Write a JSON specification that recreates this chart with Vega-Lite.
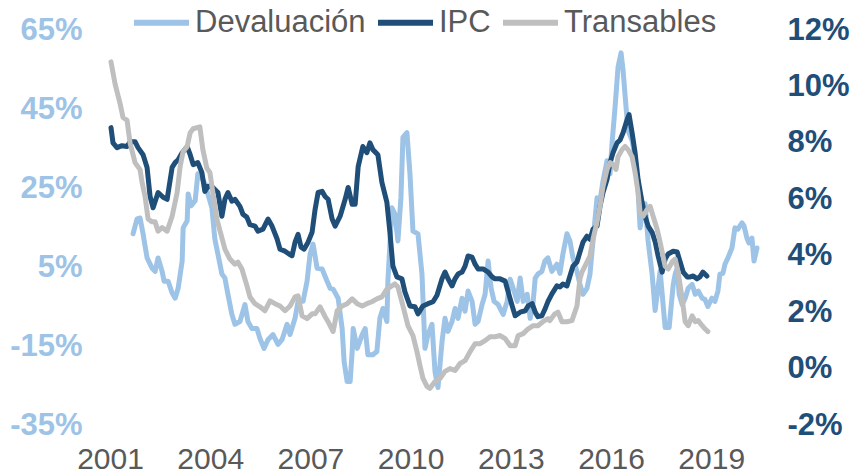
{
  "$schema": "https://vega.github.io/schema/vega-lite/v6.json",
  "width": 648,
  "height": 395,
  "autosize": {"type": "none"},
  "padding": {"left": 110, "top": 30, "right": 92, "bottom": 51},
  "background": "white",
  "config": {"view": {"stroke": null}, "font": "Liberation Sans"},
  "datasets": {
    "dev": [
      {"t":2001.69,"v":13.4},{"t":2001.81,"v":17.2},{"t":2001.90,"v":17.4},{"t":2001.99,"v":13.4},{"t":2002.11,"v":7.3},{"t":2002.26,"v":4.7},{"t":2002.35,"v":3.9},{"t":2002.44,"v":7.3},{"t":2002.56,"v":3.9},{"t":2002.62,"v":1.4},{"t":2002.74,"v":1.4},{"t":2002.86,"v":-1.6},{"t":2002.95,"v":-2.9},{"t":2003.04,"v":-0.4},{"t":2003.16,"v":6.5},{"t":2003.19,"v":14.9},{"t":2003.31,"v":16.7},{"t":2003.34,"v":23.5},{"t":2003.43,"v":20.5},{"t":2003.55,"v":21.8},{"t":2003.63,"v":28.6},{"t":2003.72,"v":28.0},{"t":2003.84,"v":26.1},{"t":2004.05,"v":20.0},{"t":2004.14,"v":12.0},{"t":2004.23,"v":8.3},{"t":2004.35,"v":3.2},{"t":2004.44,"v":2.2},{"t":2004.53,"v":-1.9},{"t":2004.65,"v":-7.0},{"t":2004.74,"v":-9.5},{"t":2004.89,"v":-8.8},{"t":2005.04,"v":-4.5},{"t":2005.13,"v":-8.8},{"t":2005.25,"v":-10.6},{"t":2005.40,"v":-10.6},{"t":2005.49,"v":-13.1},{"t":2005.61,"v":-15.6},{"t":2005.73,"v":-13.4},{"t":2005.88,"v":-12.1},{"t":2006.03,"v":-14.6},{"t":2006.15,"v":-13.4},{"t":2006.30,"v":-9.5},{"t":2006.39,"v":-12.1},{"t":2006.54,"v":-8.0},{"t":2006.63,"v":-3.7},{"t":2006.78,"v":-3.7},{"t":2006.90,"v":1.4},{"t":2006.99,"v":8.3},{"t":2007.08,"v":10.8},{"t":2007.20,"v":4.7},{"t":2007.35,"v":4.5},{"t":2007.50,"v":1.4},{"t":2007.59,"v":-0.4},{"t":2007.68,"v":-0.6},{"t":2007.83,"v":-2.9},{"t":2007.95,"v":-10.6},{"t":2008.01,"v":-19.0},{"t":2008.10,"v":-24.0},{"t":2008.19,"v":-24.0},{"t":2008.25,"v":-16.4},{"t":2008.28,"v":-10.6},{"t":2008.40,"v":-15.6},{"t":2008.55,"v":-12.1},{"t":2008.64,"v":-10.6},{"t":2008.72,"v":-17.2},{"t":2008.87,"v":-17.2},{"t":2008.99,"v":-16.4},{"t":2009.08,"v":-8.0},{"t":2009.17,"v":-5.5},{"t":2009.29,"v":-8.8},{"t":2009.32,"v":1.4},{"t":2009.44,"v":20.0},{"t":2009.53,"v":18.4},{"t":2009.62,"v":11.6},{"t":2009.71,"v":22.5},{"t":2009.77,"v":37.8},{"t":2009.89,"v":39.0},{"t":2009.98,"v":28.6},{"t":2010.07,"v":14.1},{"t":2010.22,"v":13.4},{"t":2010.34,"v":3.2},{"t":2010.43,"v":-15.6},{"t":2010.52,"v":-12.1},{"t":2010.64,"v":-9.5},{"t":2010.73,"v":-21.5},{"t":2010.82,"v":-25.5},{"t":2010.94,"v":-13.9},{"t":2011.03,"v":-8.0},{"t":2011.12,"v":-11.3},{"t":2011.24,"v":-8.8},{"t":2011.33,"v":-5.5},{"t":2011.42,"v":-8.0},{"t":2011.54,"v":-2.9},{"t":2011.63,"v":-6.2},{"t":2011.72,"v":-1.1},{"t":2011.84,"v":-3.7},{"t":2011.93,"v":-9.5},{"t":2012.02,"v":-8.8},{"t":2012.14,"v":-4.5},{"t":2012.23,"v":-1.9},{"t":2012.32,"v":6.5},{"t":2012.41,"v":-0.4},{"t":2012.50,"v":-3.7},{"t":2012.62,"v":-4.5},{"t":2012.77,"v":-7.0},{"t":2012.89,"v":-3.7},{"t":2012.98,"v":1.9},{"t":2013.07,"v":-0.4},{"t":2013.19,"v":-3.7},{"t":2013.28,"v":2.2},{"t":2013.37,"v":-3.7},{"t":2013.49,"v":-1.9},{"t":2013.58,"v":-8.0},{"t":2013.67,"v":-3.7},{"t":2013.73,"v":2.2},{"t":2013.81,"v":3.2},{"t":2013.93,"v":3.9},{"t":2014.02,"v":6.5},{"t":2014.11,"v":7.3},{"t":2014.23,"v":3.9},{"t":2014.38,"v":5.7},{"t":2014.47,"v":3.4},{"t":2014.56,"v":8.3},{"t":2014.68,"v":13.4},{"t":2014.77,"v":11.6},{"t":2014.86,"v":7.3},{"t":2014.98,"v":3.9},{"t":2015.07,"v":0.6},{"t":2015.16,"v":-1.9},{"t":2015.28,"v":-0.4},{"t":2015.37,"v":3.2},{"t":2015.46,"v":11.6},{"t":2015.58,"v":22.5},{"t":2015.67,"v":21.8},{"t":2015.76,"v":26.8},{"t":2015.88,"v":31.9},{"t":2015.97,"v":28.6},{"t":2016.03,"v":36.3},{"t":2016.12,"v":45.4},{"t":2016.21,"v":55.6},{"t":2016.30,"v":59.2},{"t":2016.36,"v":54.8},{"t":2016.45,"v":45.4},{"t":2016.51,"v":39.6},{"t":2016.63,"v":37.0},{"t":2016.72,"v":32.7},{"t":2016.81,"v":24.3},{"t":2016.87,"v":14.9},{"t":2016.96,"v":20.0},{"t":2017.02,"v":21.0},{"t":2017.11,"v":11.6},{"t":2017.23,"v":3.2},{"t":2017.32,"v":-6.0},{"t":2017.47,"v":4.0},{"t":2017.62,"v":-10.3},{"t":2017.74,"v":-10.3},{"t":2017.86,"v":0.4},{"t":2017.92,"v":3.2},{"t":2017.98,"v":4.7},{"t":2018.04,"v":-1.9},{"t":2018.13,"v":-4.5},{"t":2018.22,"v":-2.9},{"t":2018.31,"v":-0.4},{"t":2018.43,"v":0.6},{"t":2018.52,"v":-1.9},{"t":2018.61,"v":-1.1},{"t":2018.73,"v":-2.9},{"t":2018.81,"v":-3.2},{"t":2018.90,"v":-5.0},{"t":2019.02,"v":-2.9},{"t":2019.11,"v":-3.7},{"t":2019.20,"v":-1.1},{"t":2019.26,"v":3.2},{"t":2019.35,"v":3.4},{"t":2019.41,"v":5.7},{"t":2019.50,"v":7.3},{"t":2019.62,"v":9.8},{"t":2019.71,"v":14.9},{"t":2019.80,"v":14.6},{"t":2019.92,"v":16.2},{"t":2019.98,"v":15.4},{"t":2020.07,"v":12.3},{"t":2020.13,"v":11.1},{"t":2020.22,"v":12.3},{"t":2020.28,"v":6.5},{"t":2020.37,"v":9.8}
    ],
    "ipc": [
      {"t":2001.03,"v":8.54},{"t":2001.09,"v":8.0},{"t":2001.21,"v":7.83},{"t":2001.36,"v":7.9},{"t":2001.51,"v":7.87},{"t":2001.60,"v":8.04},{"t":2001.75,"v":8.04},{"t":2001.84,"v":7.83},{"t":2001.99,"v":7.58},{"t":2002.11,"v":7.13},{"t":2002.20,"v":6.1},{"t":2002.29,"v":5.7},{"t":2002.44,"v":6.24},{"t":2002.59,"v":6.07},{"t":2002.71,"v":6.0},{"t":2002.86,"v":7.13},{"t":2002.95,"v":7.3},{"t":2003.04,"v":7.4},{"t":2003.16,"v":7.65},{"t":2003.31,"v":7.87},{"t":2003.40,"v":7.58},{"t":2003.49,"v":7.23},{"t":2003.63,"v":7.3},{"t":2003.75,"v":6.95},{"t":2003.84,"v":6.28},{"t":2003.93,"v":6.46},{"t":2004.08,"v":6.42},{"t":2004.23,"v":6.24},{"t":2004.35,"v":5.4},{"t":2004.44,"v":6.0},{"t":2004.53,"v":6.24},{"t":2004.65,"v":5.93},{"t":2004.74,"v":6.0},{"t":2004.89,"v":5.75},{"t":2004.98,"v":5.47},{"t":2005.10,"v":5.36},{"t":2005.19,"v":5.1},{"t":2005.34,"v":5.05},{"t":2005.43,"v":4.87},{"t":2005.58,"v":4.94},{"t":2005.73,"v":5.3},{"t":2005.85,"v":5.05},{"t":2006.00,"v":4.6},{"t":2006.09,"v":4.23},{"t":2006.24,"v":4.16},{"t":2006.36,"v":4.06},{"t":2006.45,"v":4.0},{"t":2006.54,"v":4.48},{"t":2006.63,"v":4.76},{"t":2006.72,"v":4.3},{"t":2006.81,"v":4.23},{"t":2006.93,"v":4.48},{"t":2007.05,"v":4.83},{"t":2007.14,"v":5.64},{"t":2007.23,"v":6.24},{"t":2007.35,"v":6.28},{"t":2007.44,"v":6.1},{"t":2007.53,"v":6.0},{"t":2007.65,"v":5.3},{"t":2007.74,"v":5.05},{"t":2007.89,"v":5.4},{"t":2008.04,"v":6.0},{"t":2008.13,"v":6.42},{"t":2008.25,"v":5.82},{"t":2008.34,"v":5.82},{"t":2008.43,"v":7.16},{"t":2008.57,"v":7.87},{"t":2008.69,"v":7.65},{"t":2008.78,"v":8.0},{"t":2008.87,"v":7.76},{"t":2009.02,"v":7.58},{"t":2009.14,"v":6.6},{"t":2009.29,"v":5.89},{"t":2009.38,"v":4.83},{"t":2009.47,"v":3.63},{"t":2009.59,"v":3.25},{"t":2009.74,"v":3.18},{"t":2009.83,"v":2.72},{"t":2009.98,"v":2.22},{"t":2010.13,"v":2.19},{"t":2010.22,"v":1.94},{"t":2010.37,"v":2.22},{"t":2010.52,"v":2.3},{"t":2010.67,"v":2.37},{"t":2010.79,"v":2.6},{"t":2010.94,"v":3.18},{"t":2011.03,"v":3.42},{"t":2011.12,"v":3.18},{"t":2011.24,"v":2.93},{"t":2011.33,"v":3.18},{"t":2011.42,"v":3.35},{"t":2011.54,"v":3.42},{"t":2011.63,"v":3.63},{"t":2011.72,"v":3.99},{"t":2011.84,"v":3.95},{"t":2011.93,"v":3.7},{"t":2012.02,"v":3.53},{"t":2012.17,"v":3.53},{"t":2012.32,"v":3.42},{"t":2012.44,"v":3.25},{"t":2012.53,"v":3.18},{"t":2012.68,"v":3.18},{"t":2012.83,"v":3.1},{"t":2012.92,"v":2.72},{"t":2013.04,"v":2.22},{"t":2013.13,"v":1.87},{"t":2013.28,"v":2.0},{"t":2013.43,"v":2.05},{"t":2013.52,"v":2.22},{"t":2013.64,"v":2.3},{"t":2013.73,"v":2.0},{"t":2013.81,"v":1.84},{"t":2013.93,"v":1.87},{"t":2014.02,"v":2.1},{"t":2014.11,"v":2.37},{"t":2014.23,"v":2.65},{"t":2014.38,"v":2.93},{"t":2014.47,"v":2.89},{"t":2014.56,"v":3.0},{"t":2014.68,"v":2.93},{"t":2014.77,"v":3.28},{"t":2014.86,"v":3.63},{"t":2014.98,"v":3.78},{"t":2015.07,"v":4.13},{"t":2015.16,"v":4.48},{"t":2015.28,"v":4.69},{"t":2015.37,"v":4.58},{"t":2015.46,"v":4.94},{"t":2015.58,"v":5.05},{"t":2015.67,"v":5.75},{"t":2015.76,"v":6.24},{"t":2015.88,"v":6.7},{"t":2015.97,"v":7.3},{"t":2016.06,"v":7.65},{"t":2016.18,"v":8.0},{"t":2016.27,"v":8.1},{"t":2016.36,"v":8.36},{"t":2016.48,"v":8.82},{"t":2016.54,"v":9.0},{"t":2016.63,"v":8.36},{"t":2016.72,"v":7.65},{"t":2016.81,"v":6.7},{"t":2016.93,"v":5.89},{"t":2017.02,"v":5.4},{"t":2017.11,"v":5.05},{"t":2017.23,"v":4.83},{"t":2017.32,"v":4.5},{"t":2017.41,"v":3.99},{"t":2017.53,"v":3.42},{"t":2017.62,"v":3.88},{"t":2017.71,"v":4.06},{"t":2017.86,"v":4.16},{"t":2017.98,"v":4.13},{"t":2018.07,"v":3.78},{"t":2018.16,"v":3.42},{"t":2018.28,"v":3.25},{"t":2018.37,"v":3.25},{"t":2018.46,"v":3.28},{"t":2018.57,"v":3.18},{"t":2018.66,"v":3.25},{"t":2018.75,"v":3.42},{"t":2018.87,"v":3.28}
    ],
    "tra": [
      {"t":2001.03,"v":10.87},{"t":2001.15,"v":10.1},{"t":2001.30,"v":9.4},{"t":2001.39,"v":8.9},{"t":2001.51,"v":8.8},{"t":2001.60,"v":8.0},{"t":2001.75,"v":7.3},{"t":2001.90,"v":7.05},{"t":2001.96,"v":6.6},{"t":2002.05,"v":6.1},{"t":2002.14,"v":5.3},{"t":2002.26,"v":5.2},{"t":2002.35,"v":5.2},{"t":2002.44,"v":4.87},{"t":2002.56,"v":5.0},{"t":2002.71,"v":4.87},{"t":2002.86,"v":5.4},{"t":2003.01,"v":6.24},{"t":2003.10,"v":7.16},{"t":2003.19,"v":7.7},{"t":2003.31,"v":7.87},{"t":2003.40,"v":8.36},{"t":2003.49,"v":8.5},{"t":2003.69,"v":8.57},{"t":2003.78,"v":7.76},{"t":2003.90,"v":7.1},{"t":2003.99,"v":6.95},{"t":2004.08,"v":6.24},{"t":2004.20,"v":5.3},{"t":2004.29,"v":4.9},{"t":2004.44,"v":4.23},{"t":2004.59,"v":3.88},{"t":2004.74,"v":3.7},{"t":2004.83,"v":3.77},{"t":2004.95,"v":3.53},{"t":2005.10,"v":2.93},{"t":2005.19,"v":2.54},{"t":2005.34,"v":2.3},{"t":2005.49,"v":2.19},{"t":2005.64,"v":2.05},{"t":2005.79,"v":2.4},{"t":2005.94,"v":2.3},{"t":2006.09,"v":2.22},{"t":2006.24,"v":2.05},{"t":2006.39,"v":2.22},{"t":2006.54,"v":2.54},{"t":2006.63,"v":2.58},{"t":2006.75,"v":1.87},{"t":2006.90,"v":1.77},{"t":2007.05,"v":1.94},{"t":2007.14,"v":1.94},{"t":2007.29,"v":2.19},{"t":2007.44,"v":1.84},{"t":2007.53,"v":1.66},{"t":2007.68,"v":1.31},{"t":2007.80,"v":2.05},{"t":2007.95,"v":2.22},{"t":2008.10,"v":2.3},{"t":2008.25,"v":2.47},{"t":2008.40,"v":2.3},{"t":2008.55,"v":2.22},{"t":2008.69,"v":2.3},{"t":2008.84,"v":2.37},{"t":2008.99,"v":2.47},{"t":2009.14,"v":2.54},{"t":2009.29,"v":2.82},{"t":2009.44,"v":2.93},{"t":2009.53,"v":3.0},{"t":2009.62,"v":2.89},{"t":2009.77,"v":2.22},{"t":2009.92,"v":1.52},{"t":2010.07,"v":1.17},{"t":2010.19,"v":0.6},{"t":2010.28,"v":0.11},{"t":2010.37,"v":-0.35},{"t":2010.49,"v":-0.63},{"t":2010.58,"v":-0.7},{"t":2010.73,"v":-0.46},{"t":2010.88,"v":-0.35},{"t":2011.03,"v":-0.1},{"t":2011.18,"v":0.0},{"t":2011.33,"v":-0.07},{"t":2011.48,"v":0.18},{"t":2011.63,"v":0.28},{"t":2011.78,"v":0.6},{"t":2011.93,"v":0.88},{"t":2012.08,"v":0.88},{"t":2012.23,"v":0.99},{"t":2012.38,"v":1.13},{"t":2012.53,"v":1.13},{"t":2012.68,"v":1.17},{"t":2012.83,"v":1.06},{"t":2012.98,"v":0.81},{"t":2013.13,"v":0.81},{"t":2013.22,"v":1.17},{"t":2013.37,"v":1.24},{"t":2013.52,"v":1.41},{"t":2013.67,"v":1.52},{"t":2013.81,"v":1.52},{"t":2013.96,"v":1.66},{"t":2014.11,"v":1.77},{"t":2014.17,"v":1.7},{"t":2014.32,"v":1.94},{"t":2014.41,"v":2.0},{"t":2014.53,"v":1.66},{"t":2014.68,"v":1.66},{"t":2014.83,"v":1.7},{"t":2014.98,"v":2.22},{"t":2015.07,"v":3.18},{"t":2015.13,"v":3.42},{"t":2015.22,"v":3.63},{"t":2015.37,"v":3.99},{"t":2015.46,"v":4.58},{"t":2015.58,"v":5.19},{"t":2015.67,"v":5.75},{"t":2015.76,"v":6.46},{"t":2015.88,"v":7.06},{"t":2015.97,"v":7.3},{"t":2016.06,"v":7.23},{"t":2016.15,"v":7.06},{"t":2016.21,"v":7.51},{"t":2016.33,"v":7.76},{"t":2016.42,"v":7.87},{"t":2016.51,"v":7.76},{"t":2016.63,"v":7.51},{"t":2016.72,"v":6.95},{"t":2016.81,"v":6.24},{"t":2016.87,"v":5.54},{"t":2016.96,"v":5.4},{"t":2017.08,"v":5.64},{"t":2017.17,"v":5.75},{"t":2017.26,"v":5.4},{"t":2017.38,"v":4.94},{"t":2017.47,"v":4.48},{"t":2017.53,"v":4.13},{"t":2017.62,"v":3.63},{"t":2017.71,"v":3.53},{"t":2017.83,"v":3.78},{"t":2017.92,"v":3.88},{"t":2018.01,"v":3.42},{"t":2018.13,"v":2.47},{"t":2018.22,"v":1.66},{"t":2018.31,"v":1.52},{"t":2018.43,"v":1.87},{"t":2018.52,"v":1.66},{"t":2018.61,"v":1.7},{"t":2018.73,"v":1.52},{"t":2018.81,"v":1.41},{"t":2018.90,"v":1.31}
    ]
  },
  "encoding": {
    "x": {
      "field": "t",
      "type": "quantitative",
      "scale": {"domain": [2001, 2020.4], "nice": false, "zero": false},
      "axis": {
        "title": null,
        "values": [2001, 2004, 2007, 2010, 2013, 2016, 2019],
        "format": "d",
        "domain": false,
        "ticks": false,
        "grid": false,
        "labelFlush": false,
        "labelOverlap": false,
        "labelFont": "Liberation Sans",
        "labelFontSize": 30,
        "labelColor": "#595959",
        "labelPadding": 19
      }
    }
  },
  "layer": [
    {
      "layer": [
        {
          "data": {"values": [{}]},
          "mark": {"type": "rule", "stroke": "#D9D9D9", "strokeWidth": 2},
          "encoding": {
            "x": {"datum": 2001, "type": "quantitative"},
            "x2": {"datum": 2020.4},
            "y": {"datum": 0, "type": "quantitative"}
          }
        },
        {
          "data": {"name": "dev"},
          "mark": {"type": "line", "strokeWidth": 5, "strokeJoin": "round", "strokeCap": "round"},
          "encoding": {
            "y": {
              "field": "v",
              "type": "quantitative",
              "scale": {"domain": [-35, 65], "nice": false, "zero": false},
              "axis": {
                "title": null,
                "orient": "left",
                "values": [-35, -15, 5, 25, 45, 65],
                "labelExpr": "datum.value + '%'",
                "domain": false,
                "ticks": false,
                "grid": false,
                "labelFlush": false,
                "labelOverlap": false,
                "labelFont": "Liberation Sans",
                "labelFontSize": 31,
                "labelFontWeight": "bold",
                "labelColor": "#9DC3E6",
                "labelPadding": 28
              }
            },
            "color": {
              "datum": "Devaluación",
              "type": "nominal",
              "scale": {"domain": ["Devaluación", "IPC", "Transables"], "range": ["#9DC3E6", "#1F4E79", "#BFBFBF"]},
              "legend": {
                "title": null,
                "orient": "none",
                "direction": "horizontal",
                "legendX": 21,
                "legendY": -38,
                "padding": 0,
                "symbolType": "stroke",
                "symbolSize": 3025,
                "symbolStrokeWidth": 6,
                "labelFont": "Liberation Sans",
                "labelFontSize": 31,
                "labelColor": "#595959",
                "labelOffset": 3,
                "columnPadding": 0,
                "labelLimit": 400
              }
            }
          }
        }
      ]
    },
    {
      "layer": [
        {
          "data": {"name": "ipc"},
          "mark": {"type": "line", "strokeWidth": 5, "strokeJoin": "round", "strokeCap": "round"},
          "encoding": {
            "y": {
              "field": "v",
              "type": "quantitative",
              "scale": {"domain": [-2, 12], "nice": false, "zero": false},
              "axis": {
                "title": null,
                "orient": "right",
                "values": [-2, 0, 2, 4, 6, 8, 10, 12],
                "labelExpr": "datum.value + '%'",
                "domain": false,
                "ticks": false,
                "grid": false,
                "labelFlush": false,
                "labelOverlap": false,
                "labelFont": "Liberation Sans",
                "labelFontSize": 31,
                "labelFontWeight": "bold",
                "labelColor": "#1F4E79",
                "labelPadding": 29
              }
            },
            "color": {"datum": "IPC", "type": "nominal"}
          }
        },
        {
          "data": {"name": "tra"},
          "mark": {"type": "line", "strokeWidth": 5, "strokeJoin": "round", "strokeCap": "round"},
          "encoding": {
            "y": {"field": "v", "type": "quantitative"},
            "color": {"datum": "Transables", "type": "nominal"}
          }
        }
      ]
    }
  ],
  "resolve": {"scale": {"y": "independent"}}
}
